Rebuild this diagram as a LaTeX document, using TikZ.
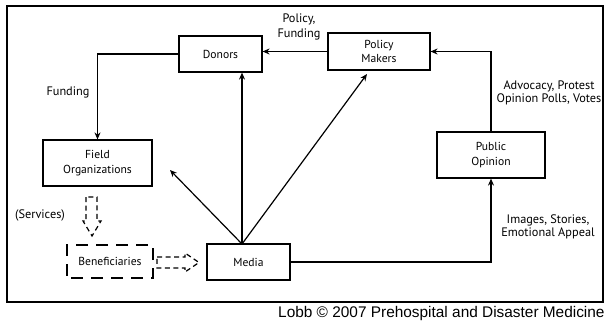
\documentclass[tikz,border=0pt]{standalone}
\usepackage{fontspec}
\setmainfont{PT Sans}
\newfontfamily\footfont{Liberation Sans}
\usetikzlibrary{arrows.meta,calc}
\begin{document}
\begin{tikzpicture}[x=1pt,y=-1pt,
 box/.style={draw, line width=1.2pt, inner sep=0pt, align=center, font=\fontsize{11.6}{14.5}\selectfont},
 lbl/.style={align=center, inner sep=0pt, font=\fontsize{12.3}{14.5}\selectfont},
 conn/.style={line width=1.2pt, -{Stealth[length=7pt,width=6pt]}},
 hollow/.style={draw, line width=1.2pt, dash pattern=on 5pt off 3.5pt}]
\useasboundingbox (0,0) rectangle (606,321);
\draw[line width=1.6pt] (7,6) rectangle (603,302);
% boxes
\node[box, minimum width=83, minimum height=36] (donors) at (220.5,54) {Donors};
\node[box, minimum width=102, minimum height=37] (pm) at (379,51.5) {Policy\\Makers};
\node[box, minimum width=108, minimum height=46] (po) at (491,155) {Public\\Opinion};
\node[box, minimum width=109, minimum height=46] (field) at (97.5,163) {Field\\Organizations};
\node[box, minimum width=83, minimum height=36] (media) at (248.5,262) {Media};
\node[box, line width=1.3pt, minimum width=86, minimum height=33, dash pattern=on 12pt off 8pt, dash phase=-4pt] (ben) at (110,261.5) {Beneficiaries};
% connector end points
\coordinate (mtop) at (242,244);
\coordinate (pmtip) at (367,74);
\coordinate (fotip) at (170,170);
% connectors
\draw[conn] (pm.west) -- (pm.west -| donors.east);
\draw[conn] (donors.west) -| (field.north);
\draw[conn] (mtop) -- (mtop |- donors.south);
\draw[conn] (mtop) -- (pmtip);
\draw[conn] (mtop) -- (fotip);
\draw[conn] (po.north) |- (pm.east);
\draw[conn] (media.east) -| (po.south);
% hollow dashed arrows
\draw[hollow] (86,197) -- (86,221) -- (83,221) -- (92,236) -- (101,221) -- (97,221) -- (97,197) -- cycle;
\draw[hollow] (157,257) -- (185,257) -- (185,253) -- (199,262.5) -- (185,272) -- (185,268) -- (157,268) -- cycle;
% labels
\node[lbl] (l1) at (299,27) {Policy,\\Funding};
\node[lbl] (l2) at (68,92) {Funding};
\node[lbl, font=\fontsize{12.3}{13}\selectfont] (l3) at (549,93) {Advocacy, Protest\\Opinion Polls, Votes};
\node[lbl, font=\fontsize{12.3}{13.5}\selectfont] (l4) at (548,227) {Images, Stories,\\Emotional Appeal};
\node[lbl] (l5) at (40,215) {(Services)};
\node[anchor=base west, inner sep=0pt, font=\footfont\fontsize{15.4}{16}\selectfont] (foot) at (278,317) {Lobb © 2007 Prehospital and Disaster Medicine};
\end{tikzpicture}
\end{document}
